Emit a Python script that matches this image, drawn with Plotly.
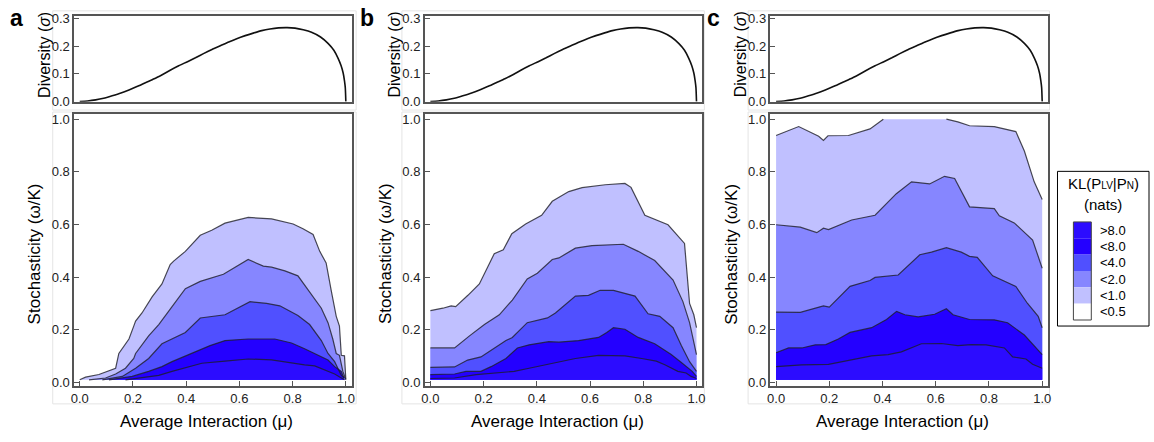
import numpy as np
import plotly.graph_objects as go

# ---------------- data ----------------
MU_DIV = [0.0, 0.03, 0.06, 0.09, 0.122, 0.155, 0.185, 0.215, 0.247, 0.28, 0.31, 0.34, 0.372, 0.405,
          0.435, 0.465, 0.497, 0.53, 0.56, 0.59, 0.622, 0.655, 0.684, 0.715, 0.747, 0.78, 0.809,
          0.84, 0.871, 0.905, 0.934, 0.955, 0.971, 0.982, 0.99, 0.995, 0.998, 1.0]
SIGMA_DIV = [0.0, 0.002, 0.006, 0.012, 0.021, 0.031, 0.042, 0.054, 0.068, 0.082, 0.097, 0.113, 0.129,
             0.144, 0.158, 0.173, 0.188, 0.202, 0.215, 0.227, 0.238, 0.248, 0.256, 0.262, 0.266, 0.267,
             0.265, 0.259, 0.25, 0.233, 0.209, 0.185, 0.156, 0.13, 0.103, 0.075, 0.05, 0.0]

Y_MIN = 0.01   # lowest stochasticity of the grid
Y_MAX = 1.0    # highest stochasticity of the grid

LEVEL_LABELS = [">8.0", "<8.0", "<4.0", "<2.0", "<1.0", "<0.5"]
LEVEL_COLORS = ["#2C0CFF", "#2400FF", "#5050FF", "#8686FF", "#C0C0FF", "#FFFFFF"]

# panel a contour boundaries (L1 = KL 8 ... L5 = KL 0.5)
A_L1_X = [0.172, 0.297, 0.347, 0.409, 0.459, 0.546, 0.633, 0.721, 0.783, 0.845, 0.883, 0.92, 0.958, 0.983, 0.995]
A_L1_Y = [0.01, 0.027, 0.042, 0.06, 0.073, 0.081, 0.089, 0.086, 0.076, 0.067, 0.063, 0.048, 0.032, 0.017, 0.01]
A_L2_X = [0.11, 0.197, 0.259, 0.309, 0.347, 0.397, 0.446, 0.49, 0.546, 0.633, 0.733, 0.796, 0.845, 0.895, 0.933, 0.958, 0.983, 0.993]
A_L2_Y = [0.01, 0.023, 0.042, 0.06, 0.079, 0.101, 0.122, 0.14, 0.159, 0.165, 0.165, 0.15, 0.128, 0.103, 0.085, 0.06, 0.042, 0.017]
A_L3_X = [0.085, 0.16, 0.21, 0.259, 0.309, 0.347, 0.397, 0.453, 0.546, 0.64, 0.702, 0.752, 0.82, 0.864, 0.908, 0.933, 0.958, 0.97, 0.983, 0.995]
A_L3_Y = [0.01, 0.023, 0.054, 0.091, 0.147, 0.165, 0.19, 0.245, 0.257, 0.307, 0.3, 0.291, 0.254, 0.22, 0.159, 0.11, 0.079, 0.054, 0.027, 0.017]
A_L4_X = [0.035, 0.097, 0.135, 0.172, 0.203, 0.21, 0.259, 0.297, 0.347, 0.397, 0.453, 0.54, 0.633, 0.69, 0.721, 0.771, 0.82, 0.858, 0.908, 0.933, 0.951, 0.964, 0.976, 0.989, 1.0]
A_L4_Y = [0.01, 0.017, 0.032, 0.054, 0.091, 0.11, 0.177, 0.22, 0.288, 0.356, 0.384, 0.411, 0.467, 0.442, 0.438, 0.424, 0.405, 0.35, 0.282, 0.227, 0.165, 0.11, 0.103, 0.042, 0.011]
A_L5_X = [0.0, 0.022, 0.072, 0.1, 0.135, 0.147, 0.185, 0.203, 0.21, 0.234, 0.272, 0.309, 0.34, 0.353, 0.397, 0.453, 0.496, 0.546, 0.633, 0.721, 0.802, 0.839, 0.877, 0.902, 0.926, 0.945, 0.964, 0.976, 0.983, 0.995, 1.0]
A_L5_Y = [0.01, 0.02, 0.03, 0.042, 0.054, 0.11, 0.165, 0.214, 0.233, 0.264, 0.325, 0.374, 0.448, 0.461, 0.498, 0.559, 0.578, 0.605, 0.627, 0.621, 0.602, 0.584, 0.562, 0.498, 0.454, 0.35, 0.251, 0.214, 0.103, 0.101, 0.011]

# panel b
B_L1_X = [0.0, 0.091, 0.172, 0.315, 0.371, 0.458, 0.545, 0.632, 0.731, 0.794, 0.849, 0.881, 0.93, 0.961, 0.98, 1.0]
B_L1_Y = [0.015, 0.017, 0.03, 0.042, 0.054, 0.073, 0.091, 0.103, 0.101, 0.091, 0.081, 0.067, 0.042, 0.036, 0.023, 0.015]
B_L2_X = [0.0, 0.091, 0.134, 0.19, 0.228, 0.284, 0.327, 0.371, 0.445, 0.483, 0.557, 0.632, 0.663, 0.688, 0.731, 0.781, 0.843, 0.905, 0.943, 0.968, 0.984, 1.0]
B_L2_Y = [0.03, 0.032, 0.042, 0.042, 0.06, 0.091, 0.131, 0.143, 0.155, 0.153, 0.159, 0.171, 0.19, 0.208, 0.202, 0.171, 0.147, 0.106, 0.076, 0.054, 0.042, 0.023]
B_L3_X = [0.0, 0.091, 0.14, 0.19, 0.284, 0.308, 0.364, 0.44, 0.47, 0.545, 0.594, 0.638, 0.688, 0.769, 0.818, 0.862, 0.912, 0.943, 0.974, 1.0]
B_L3_Y = [0.057, 0.059, 0.085, 0.097, 0.159, 0.171, 0.227, 0.245, 0.264, 0.328, 0.331, 0.35, 0.35, 0.328, 0.261, 0.251, 0.208, 0.14, 0.079, 0.042]
B_L4_X = [0.0, 0.091, 0.147, 0.203, 0.259, 0.308, 0.364, 0.402, 0.458, 0.483, 0.545, 0.607, 0.725, 0.781, 0.843, 0.912, 0.949, 0.974, 0.986, 1.0]
B_L4_Y = [0.131, 0.131, 0.177, 0.22, 0.257, 0.313, 0.393, 0.415, 0.467, 0.473, 0.51, 0.52, 0.525, 0.498, 0.463, 0.389, 0.307, 0.227, 0.171, 0.106]
B_L5_X = [0.0, 0.047, 0.078, 0.095, 0.141, 0.184, 0.24, 0.274, 0.306, 0.358, 0.418, 0.458, 0.52, 0.57, 0.657, 0.731, 0.754, 0.806, 0.893, 0.955, 0.974, 0.99, 1.0]
B_L5_Y = [0.273, 0.282, 0.291, 0.288, 0.331, 0.374, 0.489, 0.504, 0.565, 0.602, 0.635, 0.688, 0.725, 0.74, 0.751, 0.756, 0.741, 0.635, 0.599, 0.528, 0.3, 0.257, 0.208]

# panel c
C_L1_X = [0.0, 0.097, 0.197, 0.272, 0.359, 0.421, 0.471, 0.546, 0.621, 0.683, 0.733, 0.789, 0.858, 0.889, 0.939, 0.964, 1.0]
C_L1_Y = [0.06, 0.067, 0.069, 0.084, 0.101, 0.106, 0.116, 0.147, 0.148, 0.14, 0.144, 0.143, 0.131, 0.097, 0.089, 0.069, 0.054]
C_L2_X = [0.0, 0.047, 0.097, 0.147, 0.187, 0.234, 0.278, 0.359, 0.415, 0.453, 0.484, 0.534, 0.596, 0.64, 0.665, 0.727, 0.82, 0.87, 0.933, 0.97, 1.0]
C_L2_Y = [0.113, 0.131, 0.131, 0.143, 0.144, 0.165, 0.19, 0.208, 0.239, 0.27, 0.257, 0.249, 0.259, 0.28, 0.257, 0.239, 0.238, 0.227, 0.18, 0.14, 0.106]
C_L3_X = [0.0, 0.091, 0.178, 0.2, 0.278, 0.353, 0.372, 0.459, 0.54, 0.584, 0.64, 0.696, 0.727, 0.756, 0.814, 0.901, 0.945, 0.985, 1.0]
C_L3_Y = [0.267, 0.266, 0.291, 0.286, 0.365, 0.387, 0.399, 0.408, 0.485, 0.495, 0.512, 0.495, 0.479, 0.475, 0.405, 0.365, 0.3, 0.251, 0.208]
C_L4_X = [0.0, 0.091, 0.153, 0.178, 0.197, 0.284, 0.372, 0.452, 0.509, 0.577, 0.633, 0.671, 0.727, 0.82, 0.839, 0.895, 0.964, 1.0]
C_L4_Y = [0.599, 0.59, 0.569, 0.586, 0.581, 0.617, 0.635, 0.717, 0.762, 0.754, 0.783, 0.775, 0.667, 0.66, 0.633, 0.606, 0.541, 0.434]
C_L5_X = [0.0, 0.085, 0.16, 0.178, 0.195, 0.272, 0.353, 0.403, 0.5, 0.64, 0.683, 0.727, 0.82, 0.901, 0.933, 0.97, 1.0]
C_L5_Y = [0.938, 0.972, 0.935, 0.919, 0.937, 0.938, 0.963, 1.0, 1.0, 1.0, 0.99, 0.975, 0.972, 0.953, 0.879, 0.762, 0.695]

PANELS = [
    ("a", [(A_L1_X, A_L1_Y), (A_L2_X, A_L2_Y), (A_L3_X, A_L3_Y), (A_L4_X, A_L4_Y), (A_L5_X, A_L5_Y)]),
    ("b", [(B_L1_X, B_L1_Y), (B_L2_X, B_L2_Y), (B_L3_X, B_L3_Y), (B_L4_X, B_L4_Y), (B_L5_X, B_L5_Y)]),
    ("c", [(C_L1_X, C_L1_Y), (C_L2_X, C_L2_Y), (C_L3_X, C_L3_Y), (C_L4_X, C_L4_Y), (C_L5_X, C_L5_Y)]),
]

# ---------------- layout geometry (pixels) ----------------
W, H = 1154, 442
BOX_LEFT = [71.5, 424.0, 771.5]
BOX_W = 279.0
TOP_Y = (11.0, 99.5)
BOT_Y = (112.5, 391.5)
FONT = "Liberation Sans, Arial, sans-serif"
FRAME = "#555555"


def px_x(p):
    return p / W


def px_y(p):
    return 1 - p / H


fig = go.Figure()
layout = dict(width=W, height=H, margin=dict(l=0, r=0, t=0, b=0), autosize=False,
              paper_bgcolor="white", plot_bgcolor="white", showlegend=False,
              font=dict(family=FONT, size=13, color="#222222"))
annotations = []
shapes = []

for i, (letter, levels) in enumerate(PANELS):
    left = BOX_LEFT[i]
    dom_x = [px_x(left), px_x(left + BOX_W)]
    top_n = 2 * i + 1
    bot_n = 2 * i + 2
    xa_t, ya_t = f"x{top_n}", f"y{top_n}"
    xa_b, ya_b = f"x{bot_n}", f"y{bot_n}"

    common = dict(showline=True, mirror=True, linecolor=FRAME, linewidth=1.5, showgrid=False,
                  zeroline=False, ticks="inside", ticklen=5, tickcolor=FRAME, tickwidth=1,
                  tickfont=dict(family=FONT, size=13, color="#222222"))

    layout[f"xaxis{top_n}"] = dict(common, domain=dom_x, range=[-0.021, 1.022], anchor=ya_t,
                                   showticklabels=False, ticks="")
    layout[f"yaxis{top_n}"] = dict(common, domain=[px_y(TOP_Y[1]), px_y(TOP_Y[0])], range=[-0.001, 0.31],
                                   anchor=xa_t, tickvals=[0, 0.1, 0.2, 0.3], ticktext=["0.0", "0.1", "0.2", "0.3"])
    layout[f"xaxis{bot_n}"] = dict(common, domain=dom_x, range=[-0.021, 1.022], anchor=ya_b,
                                   tickvals=[0, 0.2, 0.4, 0.6, 0.8, 1.0],
                                   ticktext=["0.0", "0.2", "0.4", "0.6", "0.8", "1.0"])
    layout[f"yaxis{bot_n}"] = dict(common, domain=[px_y(BOT_Y[1]), px_y(BOT_Y[0])], range=[-0.013, 1.018],
                                   anchor=xa_b, tickvals=[0, 0.2, 0.4, 0.6, 0.8, 1.0],
                                   ticktext=["0.0", "0.2", "0.4", "0.6", "0.8", "1.0"])

    # diversity curve
    fig.add_trace(go.Scatter(x=MU_DIV, y=SIGMA_DIV, mode="lines", xaxis=xa_t, yaxis=ya_t,
                             line=dict(color="#111111", width=1.6, shape="spline", smoothing=0.6),
                             hoverinfo="skip"))

    # filled regions: outermost (lightest) first
    for k in range(len(levels) - 1, -1, -1):
        xs, ys = levels[k]
        px_ = list(xs) + [xs[-1], xs[0]]
        py_ = list(ys) + [Y_MIN, Y_MIN]
        fig.add_trace(go.Scatter(x=px_, y=py_, mode="lines", fill="toself", xaxis=xa_b, yaxis=ya_b,
                                 fillcolor=LEVEL_COLORS[k], line=dict(width=0, color=LEVEL_COLORS[k]),
                                 hoverinfo="skip"))
    # contour lines (not drawn where the contour runs along the grid's top edge)
    for k in range(len(levels)):
        xs, ys = levels[k]
        lx, ly = [], []
        for j in range(len(xs)):
            if j > 0 and ys[j] >= Y_MAX and ys[j - 1] >= Y_MAX:
                lx.append(None)
                ly.append(None)
            lx.append(xs[j])
            ly.append(ys[j])
        fig.add_trace(go.Scatter(x=lx, y=ly, mode="lines", xaxis=xa_b, yaxis=ya_b, connectgaps=False,
                                 line=dict(color="rgba(30,30,40,0.8)", width=1.2), hoverinfo="skip"))

    # panel letter
    letter_x = [14, 366, 714][i]
    annotations.append(dict(text=f"<b>{letter}</b>", x=px_x(letter_x), y=px_y(13), xref="paper", yref="paper",
                            showarrow=False, font=dict(family=FONT, size=23, color="black"),
                            xanchor="center", yanchor="middle"))
    # axis titles
    annotations.append(dict(text="Diversity (<i>σ</i>)", x=px_x(left - 30), y=px_y(51), xref="paper",
                            yref="paper", showarrow=False, textangle=-90,
                            font=dict(family=FONT, size=16, color="black"), xanchor="center", yanchor="middle"))
    annotations.append(dict(text="Stochasticity (ω/K)", x=px_x(left - 40), y=px_y(256), xref="paper",
                            yref="paper", showarrow=False, textangle=-90,
                            font=dict(family=FONT, size=17, color="black"), xanchor="center", yanchor="middle"))
    annotations.append(dict(text="Average Interaction (μ)", x=px_x(left + 133), y=px_y(428), xref="paper",
                            yref="paper", showarrow=False,
                            font=dict(family=FONT, size=17, color="black"), xanchor="center", yanchor="middle"))

    # light outer frames
    fl = [50, 401, 749][i]
    fr = [355, 705, 1052][i]
    shapes.append(dict(type="rect", xref="paper", yref="paper", x0=px_x(fl), x1=px_x(fr), y0=px_y(6), y1=px_y(108),
                       line=dict(color="#e4e4e4", width=1), fillcolor="rgba(0,0,0,0)", layer="below"))
    shapes.append(dict(type="rect", xref="paper", yref="paper", x0=px_x(fl), x1=px_x(fr), y0=px_y(110), y1=px_y(410),
                       line=dict(color="#e4e4e4", width=1), fillcolor="rgba(0,0,0,0)", layer="below"))

# legend box
shapes.append(dict(type="rect", xref="paper", yref="paper", x0=px_x(1060), x1=px_x(1152), y0=px_y(330), y1=px_y(171),
                   line=dict(color="black", width=1), fillcolor="white"))
annotations.append(dict(text="KL(P<span style='font-size:10px'>LV</span>|P<span style='font-size:10px'>N</span>)",
                        x=px_x(1106), y=px_y(183), xref="paper", yref="paper", showarrow=False,
                        font=dict(family=FONT, size=15, color="black"), xanchor="center", yanchor="middle"))
annotations.append(dict(text="(nats)", x=px_x(1106), y=px_y(205), xref="paper", yref="paper", showarrow=False,
                        font=dict(family=FONT, size=15, color="black"), xanchor="center", yanchor="middle"))
SW_TOP, SW_ROW = 223.0, 16.8
for r, (lab, col) in enumerate(zip(LEVEL_LABELS, LEVEL_COLORS)):
    y0 = SW_TOP + r * SW_ROW
    shapes.append(dict(type="rect", xref="paper", yref="paper", x0=px_x(1076), x1=px_x(1094),
                       y0=px_y(y0 + SW_ROW), y1=px_y(y0), line=dict(width=0), fillcolor=col))
    annotations.append(dict(text=lab, x=px_x(1101), y=px_y(y0 + SW_ROW / 2), xref="paper", yref="paper",
                            showarrow=False, font=dict(family=FONT, size=13, color="black"),
                            xanchor="left", yanchor="middle"))
shapes.append(dict(type="rect", xref="paper", yref="paper", x0=px_x(1076), x1=px_x(1094),
                   y0=px_y(SW_TOP + 6 * SW_ROW), y1=px_y(SW_TOP), line=dict(color="#444444", width=1),
                   fillcolor="rgba(0,0,0,0)"))

layout["annotations"] = annotations
layout["shapes"] = shapes
fig.update_layout(**layout)
fig.write_html("out.html")
